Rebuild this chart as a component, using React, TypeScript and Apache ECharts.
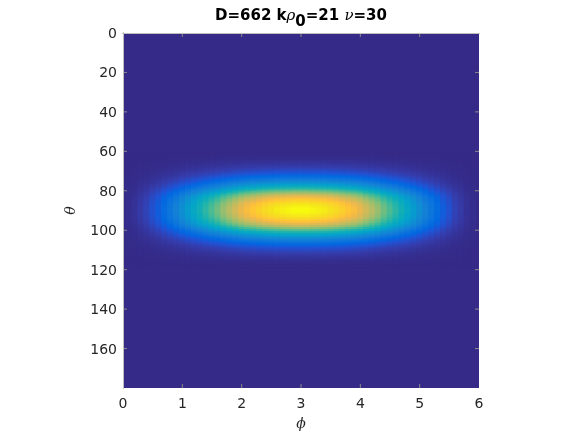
import React, { useEffect, useRef } from "react";
import * as echarts from "echarts";

// phi grid: 0, 0.1, ..., 6.0 (relative intensity along theta = 90)
const phiValues: number[] = Array.from({ length: 61 }, (_, i) => +(i * 0.1).toFixed(1));
const phiProfile: number[] = [
  0.0, 0.01, 0.02, 0.04, 0.06, 0.09, 0.12, 0.16, 0.2, 0.24,
  0.29, 0.34, 0.39, 0.44, 0.49, 0.54, 0.59, 0.65, 0.7, 0.75,
  0.8, 0.84, 0.87, 0.9, 0.93, 0.95, 0.97, 0.98, 0.99, 1.0,
  1.0,
  1.0, 0.99, 0.98, 0.97, 0.95, 0.93, 0.9, 0.87, 0.84, 0.8,
  0.75, 0.7, 0.65, 0.59, 0.54, 0.49, 0.44, 0.39, 0.34, 0.29,
  0.24, 0.2, 0.16, 0.12, 0.09, 0.06, 0.04, 0.02, 0.01, 0.0,
];

// theta grid: 60, 61, ..., 120 (relative intensity along phi = 3)
const thetaValues: number[] = Array.from({ length: 61 }, (_, i) => 60 + i);
const thetaProfile: number[] = [
  0.0, 0.0, 0.002, 0.005, 0.01, 0.017, 0.025, 0.035, 0.047, 0.062,
  0.08, 0.1, 0.13, 0.16, 0.2, 0.24, 0.29, 0.35, 0.41, 0.48,
  0.56, 0.64, 0.72, 0.79, 0.85, 0.89, 0.93, 0.96, 0.98, 0.995,
  1.0,
  0.995, 0.98, 0.96, 0.93, 0.89, 0.85, 0.79, 0.72, 0.64, 0.56,
  0.48, 0.41, 0.35, 0.29, 0.24, 0.2, 0.16, 0.13, 0.1, 0.08,
  0.062, 0.047, 0.035, 0.025, 0.017, 0.01, 0.005, 0.002, 0.0, 0.0,
];

const xTicks: number[] = [0, 1, 2, 3, 4, 5, 6];
const yTicks: number[] = [0, 20, 40, 60, 80, 100, 120, 140, 160];

const parula: string[] = [
  "#352a87", "#353dad", "#2053d4", "#0268e1", "#0d75dc", "#1481d6",
  "#108ed2", "#079ccf", "#06a7c6", "#0faeb9", "#25b5a9", "#42bb98",
  "#65be86", "#87bf77", "#a5be6b", "#c0bc60", "#d9ba56", "#f1b94a",
  "#ffc337", "#fad32a", "#f5e41d", "#f9fb0e",
];

export default function App() {
  const ref = useRef<HTMLDivElement>(null);
  useEffect(() => {
    if (!ref.current) return;
    const chart = echarts.init(ref.current, null, { renderer: "svg" });

    const cells: number[][] = [];
    phiValues.forEach((p, i) => {
      thetaValues.forEach((t, j) => {
        const v = phiProfile[i] * thetaProfile[j];
        if (v > 0) cells.push([p, t, v]);
      });
    });

    const labelColor = "#262626";
    const mainLine = "#8f8f8f";
    const sideLine = "#bdbdbd";
    const tickColor = "#8a8a8a";
    const tickLen = 4;
    const grid = { left: 123, top: 33, width: 356, height: 355, show: true, backgroundColor: parula[0], borderWidth: 0 };

    chart.setOption({
      animation: false,
      grid,
      visualMap: {
        show: false,
        min: 0,
        max: 1,
        dimension: 2,
        seriesIndex: 0,
        inRange: { color: parula },
      },
      xAxis: [
        {
          type: "value",
          z: 10,
          min: 0,
          max: 6,
          interval: 1,
          position: "bottom",
          name: "ϕ",
          nameLocation: "middle",
          nameGap: 28,
          nameTextStyle: { fontFamily: "DejaVu Serif", fontStyle: "italic", fontSize: 14, color: labelColor },
          axisLine: { show: true, lineStyle: { color: mainLine, width: 1 } },
          axisTick: { show: false },
          axisLabel: {
            margin: 8,
            fontFamily: "DejaVu Sans",
            fontSize: 14,
            color: labelColor,
            formatter: (v: number) => (xTicks.includes(v) ? String(v) : ""),
          },
          splitLine: { show: false },
        },
        {
          type: "value",
          z: 10,
          min: 0,
          max: 6,
          interval: 1,
          position: "top",
          axisLine: { show: true, lineStyle: { color: sideLine, width: 1 } },
          axisTick: { show: false },
          axisLabel: { show: false },
          splitLine: { show: false },
        },
      ],
      yAxis: [
        {
          type: "value",
          z: 10,
          min: 0,
          max: 180,
          interval: 20,
          inverse: true,
          position: "left",
          name: "θ",
          nameLocation: "middle",
          nameGap: 46,
          nameTextStyle: { fontFamily: "DejaVu Serif", fontStyle: "italic", fontSize: 14, color: labelColor },
          axisLine: { show: true, lineStyle: { color: mainLine, width: 1 } },
          axisTick: { show: false },
          axisLabel: {
            margin: 6,
            fontFamily: "DejaVu Sans",
            fontSize: 14,
            color: labelColor,
            showMaxLabel: false,
            formatter: (v: number) => (yTicks.includes(v) ? String(v) : ""),
          },
          splitLine: { show: false },
        },
        {
          type: "value",
          z: 10,
          min: 0,
          max: 180,
          interval: 20,
          inverse: true,
          position: "right",
          axisLine: { show: true, lineStyle: { color: sideLine, width: 1 } },
          axisTick: { show: false },
          axisLabel: { show: false },
          splitLine: { show: false },
        },
      ],
      graphic: [
        {
          type: "text",
          x: 301,
          y: 15,
          z: 10,
          style: {
            text: "{b|D=662 k}{g|ρ}{s|0}{b|=21 }{g|ν}{b|=30}",
            align: "center",
            verticalAlign: "middle",
            rich: {
              b: { fontFamily: "DejaVu Sans", fontWeight: "bold", fontSize: 15, fill: "#000", verticalAlign: "middle" },
              g: { fontFamily: "DejaVu Serif", fontStyle: "italic", fontSize: 15, fill: "#000", verticalAlign: "middle" },
              s: { fontFamily: "DejaVu Sans", fontWeight: "bold", fontSize: 15, fill: "#000", padding: [12, 0, 0, 0], verticalAlign: "middle" },
            },
          },
        },
      ],
      series: [
        {
          type: "custom",
          z: 2,
          xAxisIndex: 0,
          yAxisIndex: 0,
          clip: true,
          encode: { x: 0, y: 1 },
          data: cells,
          renderItem: (params: any, api: any) => {
            const p = api.value(0);
            const t = api.value(1);
            const a = api.coord([p - 0.05, t - 0.5]);
            const b = api.coord([p + 0.05, t + 0.5]);
            const x = Math.min(a[0], b[0]) - 0.4;
            const y = Math.min(a[1], b[1]) - 0.4;
            return {
              type: "rect",
              shape: { x, y, width: Math.abs(b[0] - a[0]) + 0.8, height: Math.abs(b[1] - a[1]) + 0.8 },
              style: { fill: api.visual("color") },
            };
          },
        },
        {
          type: "custom",
          z: 5,
          xAxisIndex: 0,
          yAxisIndex: 0,
          clip: false,
          silent: true,
          encode: { x: 0, y: 1 },
          data: xTicks.slice(1, -1).map((v) => [v, 0]),
          renderItem: (params: any, api: any) => {
            const v = api.value(0);
            const top = api.coord([v, 0]);
            const bot = api.coord([v, 180]);
            const st = { stroke: tickColor, lineWidth: 1 };
            return {
              type: "group",
              children: [
                { type: "line", shape: { x1: top[0], y1: top[1], x2: top[0], y2: top[1] + tickLen }, style: st },
                { type: "line", shape: { x1: bot[0], y1: bot[1], x2: bot[0], y2: bot[1] - tickLen }, style: st },
              ],
            };
          },
        },
        {
          type: "custom",
          z: 5,
          xAxisIndex: 0,
          yAxisIndex: 0,
          clip: false,
          silent: true,
          encode: { x: 0, y: 1 },
          data: yTicks.slice(1).map((v) => [0, v]),
          renderItem: (params: any, api: any) => {
            const v = api.value(1);
            const l = api.coord([0, v]);
            const r = api.coord([6, v]);
            const st = { stroke: tickColor, lineWidth: 1 };
            return {
              type: "group",
              children: [
                { type: "line", shape: { x1: l[0], y1: l[1], x2: l[0] + tickLen, y2: l[1] }, style: st },
                { type: "line", shape: { x1: r[0], y1: r[1], x2: r[0] - tickLen, y2: r[1] }, style: st },
              ],
            };
          },
        },
      ],
    });
    return () => chart.dispose();
  }, []);
  return <div ref={ref} style={{ position: "fixed", left: 0, top: 0, width: 581, height: 436 }} />;
}
